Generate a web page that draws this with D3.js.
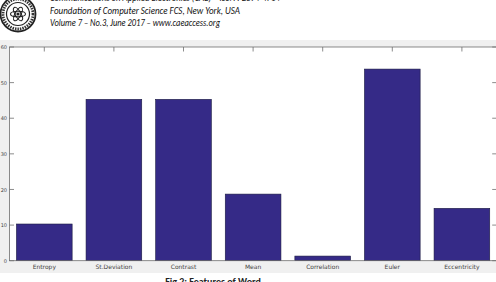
<!DOCTYPE html>
<html>
<head>
<meta charset="utf-8">
<script src="https://cdn.jsdelivr.net/npm/d3@7"></script>
<style>
  body { margin: 0; background: #fff; }
  svg { display: block; }
</style>
</head>
<body>
<div id="chart"></div>
<script>
// values
const features = ["Entropy", "St.Deviation", "Contrast", "Mean", "Correlation", "Euler", "Eccentricity"];
const featureValues = [10.3, 45.3, 45.3, 18.7, 1.3, 53.8, 14.7];
const yTicks = [0, 10, 20, 30, 40, 50, 60];
const headerLines = [
  "Communications on Applied Electronics (CAE) \u2013 ISSN : 2394-4714",
  "Foundation of Computer Science FCS, New York, USA",
  "Volume 7 \u2013 No.3, June 2017 \u2013 www.caeaccess.org"
];
const captionText = "Fig 2: Features of Word";

const width = 496, height = 282;
const svg = d3.select("#chart").append("svg")
  .attr("width", width)
  .attr("height", height);

// page header (journal banner)
const logo = svg.append("g").attr("transform", "translate(18,14)");
logo.append("circle").attr("r", 17.5).attr("fill", "none").attr("stroke", "#222").attr("stroke-width", 1.8);
logo.append("circle").attr("r", 15).attr("fill", "none").attr("stroke", "#333").attr("stroke-width", 2.8).attr("stroke-dasharray", "1.5,1");
logo.append("circle").attr("r", 11.5).attr("fill", "none").attr("stroke", "#222").attr("stroke-width", 1.2);
[0, 60, 120].forEach(a => {
  logo.append("ellipse").attr("rx", 7.5).attr("ry", 2.8)
    .attr("transform", `rotate(${a})`)
    .attr("fill", "none").attr("stroke", "#222").attr("stroke-width", 1.1);
});
logo.append("circle").attr("r", 1.6).attr("fill", "#222");

const lineYs = [1, 13.5, 26];
const lineWidths = [230, 190, 170];
headerLines.forEach((t, i) => {
  svg.append("text")
    .attr("x", 50)
    .attr("y", lineYs[i])
    .attr("font-family", "Carlito, 'Liberation Sans', Arial, sans-serif")
    .attr("font-style", "italic")
    .attr("font-size", "10px")
    .attr("fill", "#111")
    .attr("textLength", lineWidths[i])
    .attr("lengthAdjust", "spacingAndGlyphs")
    .text(t);
});

// figure background (matlab gray)
svg.append("rect")
  .attr("x", 0).attr("y", 40)
  .attr("width", width).attr("height", 233)
  .attr("fill", "#f0f0f0");

const plotLeft = 9.5, plotRight = 496.7, plotTop = 47, plotBottom = 260.7;

const x = d3.scaleBand()
  .domain(features)
  .range([plotLeft, plotRight])
  .paddingInner(0.2)
  .paddingOuter(0.1);

const y = d3.scaleLinear()
  .domain([0, 60])
  .range([plotBottom, plotTop]);

// axes area
svg.append("rect")
  .attr("x", plotLeft).attr("y", plotTop)
  .attr("width", plotRight - plotLeft).attr("height", plotBottom - plotTop)
  .attr("fill", "#fff");

// bars
svg.selectAll(".bar")
  .data(features)
  .enter().append("rect")
  .attr("class", "bar")
  .attr("x", d => x(d))
  .attr("y", (d, i) => y(featureValues[i]))
  .attr("width", x.bandwidth())
  .attr("height", (d, i) => y(0) - y(featureValues[i]))
  .attr("fill", "#352a87")
  .attr("stroke", "#1a1a40")
  .attr("stroke-width", 0.6);

// box + ticks
const axisColor = "#6e6e6e";
svg.append("rect")
  .attr("x", plotLeft).attr("y", plotTop)
  .attr("width", plotRight - plotLeft).attr("height", plotBottom - plotTop)
  .attr("fill", "none")
  .attr("stroke", axisColor)
  .attr("stroke-width", 0.8);

const tickLen = 4.5;
features.forEach(f => {
  const cx = x(f) + x.bandwidth() / 2;
  svg.append("line")
    .attr("x1", cx).attr("x2", cx)
    .attr("y1", plotTop).attr("y2", plotTop + tickLen)
    .attr("stroke", axisColor).attr("stroke-width", 0.8);
});
yTicks.forEach(v => {
  svg.append("line")
    .attr("x1", plotRight).attr("x2", plotRight - tickLen)
    .attr("y1", y(v)).attr("y2", y(v))
    .attr("stroke", axisColor).attr("stroke-width", 0.8);
  svg.append("line")
    .attr("x1", plotLeft).attr("x2", plotLeft + tickLen)
    .attr("y1", y(v)).attr("y2", y(v))
    .attr("stroke", axisColor).attr("stroke-width", 0.8);
});

// tick labels
const yAxis = d3.axisLeft(y).tickValues(yTicks).tickSize(0).tickPadding(2.5);
const gy = svg.append("g")
  .attr("transform", `translate(${plotLeft},0)`)
  .call(yAxis);
gy.select(".domain").remove();
gy.selectAll("text")
  .attr("font-family", "'DejaVu Sans', sans-serif")
  .attr("font-size", "5px")
  .attr("fill", "#444");

const xAxis = d3.axisBottom(x).tickSize(0).tickPadding(4);
const gx = svg.append("g")
  .attr("transform", `translate(0,${plotBottom})`)
  .call(xAxis);
gx.select(".domain").remove();
gx.selectAll("text")
  .attr("font-family", "'DejaVu Sans', sans-serif")
  .attr("font-size", "6px")
  .attr("fill", "#444");

// caption (cut by the page edge, as in the source)
svg.append("text")
  .attr("x", 213)
  .attr("y", 285)
  .attr("text-anchor", "middle")
  .attr("font-family", "Carlito, 'Liberation Sans', Arial, sans-serif")
  .attr("font-weight", "bold")
  .attr("font-size", "10px")
  .attr("fill", "#222")
  .text(captionText);
</script>
</body>
</html>
